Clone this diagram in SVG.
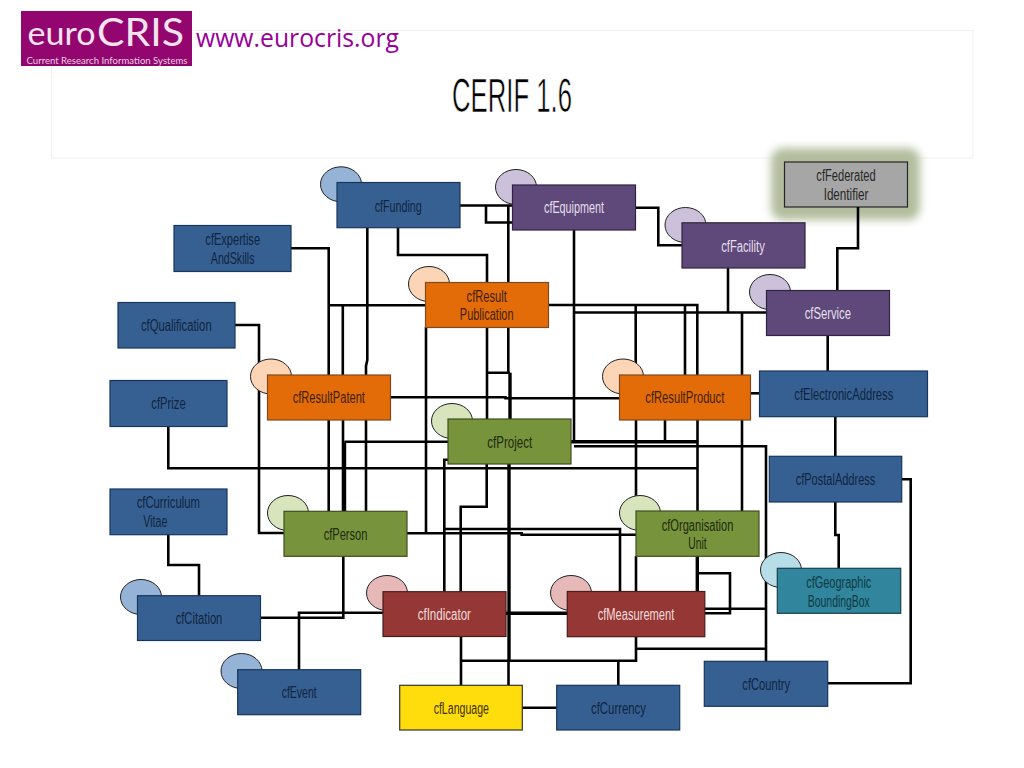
<svg xmlns="http://www.w3.org/2000/svg" width="1024" height="768" viewBox="0 0 1024 768">
<style>
text{font-family:"Liberation Sans",Arial,sans-serif}
.n text{font-size:16px;text-anchor:middle}
.n rect{stroke-width:1.2}
.n ellipse{stroke:#222;stroke-width:1}
.b rect{fill:#376092;stroke:#17365d}.b text{fill:#0f243e}.b ellipse{fill:#95b3d7}
.p rect{fill:#5f497a;stroke:#2f2440}.p text{fill:#e5dfec}.p ellipse{fill:#ccc1da}
.g rect{fill:#77933c;stroke:#3f4f20}.g text{fill:#1d2b0e}.g ellipse{fill:#d7e4bc}
.o rect{fill:#e36c09;stroke:#7f4a1c}.o text{fill:#3f1f04}.o ellipse{fill:#fbd5b5}
.r rect{fill:#953735;stroke:#4a1b1a}.r text{fill:#f2dcdb}.r ellipse{fill:#e6b9b8}
.t rect{fill:#31859c;stroke:#17404c}.t text{fill:#0f3a44}.t ellipse{fill:#b7dde8}
.y rect{fill:#ffdd0d;stroke:#333}.y text{fill:#3f3000}
.a rect{fill:#a6a6a6;stroke:#262626}.a text{fill:#262626}
#connectors path{fill:none;stroke:#000;stroke-width:2.6}
#connectors path.h{stroke-width:3.4}
</style>
<defs><filter id="glow" x="-20%" y="-20%" width="140%" height="140%"><feGaussianBlur stdDeviation="4"/></filter></defs>

<rect id="title-box" x="51.5" y="30.5" width="921.5" height="127.5" fill="#fff" stroke="#f0f0f0" stroke-width="1"/>
<text x="512" y="112" font-size="49" text-anchor="middle" textLength="120" lengthAdjust="spacingAndGlyphs" fill="#000" stroke="#fff" stroke-width="0.7" paint-order="fill">CERIF 1.6</text>
<g id="logo">
<rect x="21" y="11" width="171" height="55" fill="#93066f"/>
<text x="27.5" y="45" font-size="33" fill="#f3e3ee" textLength="68" lengthAdjust="spacingAndGlyphs" style="font-family:Lato,sans-serif">euro</text>
<text x="97" y="46" font-size="39" fill="#f3e3ee" textLength="87" lengthAdjust="spacingAndGlyphs" style="font-family:Lato,sans-serif">CRIS</text>
<text x="26.5" y="64" font-size="10" fill="#e8cfe0" textLength="161" lengthAdjust="spacingAndGlyphs" style="font-family:Lato,sans-serif">Current Research Information Systems</text>
</g>
<text x="196" y="47" font-size="25" fill="#990099" textLength="203" lengthAdjust="spacingAndGlyphs" style="font-family:'Open Sans',sans-serif">www.eurocris.org</text>

<g id="cfFederatedIdentifier" class="n a">
<rect x="771" y="148" width="149" height="72" rx="12" filter="url(#glow)" style="fill:#b3bd9e;stroke:none"/>
<rect x="784.5" y="162" width="123" height="45"/>
<text x="846" y="181" textLength="59.3" lengthAdjust="spacingAndGlyphs">cfFederated</text>
<text x="846" y="200" textLength="44.7" lengthAdjust="spacingAndGlyphs">Identifier</text>
</g>

<g id="connectors">
<path d="M460 205.5H512"/>
<path d="M486 205.5V222.5H512"/>
<path d="M508.3 205.5V282M508.3 327V372.7"/>
<path d="M398 228V255H487V282"/>
<path d="M487 327V419M487 372.7H510"/>
<path d="M510 372.7V419" class="h"/>
<path d="M367.3 228V360L366 366V375M366 420V511"/>
<path d="M291 248.3H328.7V375M328.7 420V511"/>
<path d="M235 325H259V533H284"/>
<path d="M328.7 305.3H425.3"/>
<path d="M342.8 305.3V375M343 420V511"/>
<path d="M344.5 441.7V511" class="h"/>
<path d="M344.5 441.7H448"/>
<path d="M548 305H697.3V375"/>
<path d="M685 305V375M635.7 305V375M636 420V511M636 556V591.5"/>
<path d="M574 230V441.7"/>
<path d="M571 441.7H697.5" class="h"/>
<path d="M574 312.5H766.5"/>
<path d="M574 446.3H766V661.5"/>
<path d="M742 312.5V375M742 420V511"/>
<path d="M665 420V441.7"/>
<path d="M697.5 420V511"/>
<path d="M697.3 556V591.5" class="h"/>
<path d="M697.3 573.3H730V613.3H705"/>
<path d="M705 608.7H766"/>
<path d="M168.3 426V468.3H697.5"/>
<path d="M445 529H620V591.5"/>
<path d="M407 533.3H521.7V534.7H636"/>
<path d="M426 327V533.3"/>
<path d="M448 459.7H444.3V591.7"/>
<path d="M486.7 464V506.7H460.7V591.7"/>
<path d="M461 636V685.5"/>
<path d="M509 464V660" class="h"/>
<path d="M508.5 660V685.5"/>
<path d="M506 613.3H567.3" class="h"/>
<path d="M383 612.7H299V670"/>
<path d="M260 617.7H343.3V556"/>
<path d="M168.3 535V565H199V596"/>
<path d="M636 637V660.7H461"/>
<path d="M636 648.7H766"/>
<path d="M618.3 660.7V685.5"/>
<path d="M522 707.7H557"/>
<path d="M390 397.3H505.5V398.3H619.5"/>
<path d="M750 393.3H759.5"/>
<path d="M636 207.7H658.3V245.3H682"/>
<path d="M728 268V312.5"/>
<path d="M858 207V248.3H837.3V290.5"/>
<path d="M827.7 335V371"/>
<path d="M835.3 416.5V456.5"/>
<path d="M835.3 502V535H838.7V568.5"/>
<path d="M902 479.3H910.7V683.3H828"/>
</g>

<g id="cfFacility" class="n p"><ellipse cx="685.5" cy="225" rx="20.5" ry="17.5"/><rect x="682" y="222.8" width="123" height="45.2"/><text x="743" y="251.7" textLength="43.7" lengthAdjust="spacingAndGlyphs">cfFacility</text></g>
<g id="cfService" class="n p"><ellipse cx="770" cy="292" rx="20.5" ry="17.5"/><rect x="766.5" y="290.5" width="123" height="45"/><text x="827.8" y="318.7" textLength="46.3" lengthAdjust="spacingAndGlyphs">cfService</text></g>
<g id="cfElectronicAddress" class="n b"><rect x="759.5" y="371" width="168" height="45.7"/><text x="843.8" y="400" textLength="99" lengthAdjust="spacingAndGlyphs">cfElectronicAddress</text></g>
<g id="cfResultProduct" class="n o"><ellipse cx="623" cy="376.5" rx="20.5" ry="17.5"/><rect x="619.5" y="375" width="131" height="45"/><text x="684.8" y="403.3" textLength="79" lengthAdjust="spacingAndGlyphs">cfResultProduct</text></g>
<g id="cfEquipment" class="n p"><ellipse cx="516" cy="187" rx="20.5" ry="17.5"/><rect x="512.5" y="185" width="123" height="45"/><text x="574" y="213.3" textLength="60" lengthAdjust="spacingAndGlyphs">cfEquipment</text></g>
<g id="cfFunding" class="n b"><ellipse cx="341" cy="184.3" rx="20.5" ry="17.5"/><rect x="337" y="182.5" width="123" height="45.2"/><text x="398.2" y="211.7" textLength="47" lengthAdjust="spacingAndGlyphs">cfFunding</text></g>
<g id="cfResultPublication" class="n o"><ellipse cx="429" cy="284" rx="20.5" ry="17.5"/><rect x="425.5" y="282.5" width="123" height="45"/><text x="486.7" y="301.7" textLength="40.3" lengthAdjust="spacingAndGlyphs">cfResult</text><text x="486.7" y="320.3" textLength="53.7" lengthAdjust="spacingAndGlyphs">Publication</text></g>
<g id="cfResultPatent" class="n o"><ellipse cx="271" cy="376.5" rx="20.5" ry="17.5"/><rect x="267.5" y="375" width="123" height="45"/><text x="328.8" y="403.3" textLength="72.3" lengthAdjust="spacingAndGlyphs">cfResultPatent</text></g>
<g id="cfExpertiseAndSkills" class="n b"><rect x="174" y="225.5" width="117" height="46"/><text x="232.7" y="245" textLength="54.7" lengthAdjust="spacingAndGlyphs">cfExpertise</text><text x="232.7" y="263.7" textLength="43.7" lengthAdjust="spacingAndGlyphs">AndSkills</text></g>
<g id="cfQualification" class="n b"><rect x="118" y="302.5" width="117" height="45.5"/><text x="176.3" y="331" textLength="70.7" lengthAdjust="spacingAndGlyphs">cfQualification</text></g>
<g id="cfPrize" class="n b"><rect x="110" y="380.5" width="117" height="46"/><text x="168.5" y="409.3" textLength="34.3" lengthAdjust="spacingAndGlyphs">cfPrize</text></g>
<g id="cfCurriculumVitae" class="n b"><rect x="110" y="489" width="117" height="45.7"/><text x="168.3" y="508.3" textLength="63.3" lengthAdjust="spacingAndGlyphs">cfCurriculum</text><text x="155.3" y="527.3" textLength="24" lengthAdjust="spacingAndGlyphs">Vitae</text></g>
<g id="cfPerson" class="n g"><ellipse cx="288" cy="513" rx="20.5" ry="17.5"/><rect x="284" y="511.3" width="123" height="45"/><text x="345.5" y="540" textLength="43.7" lengthAdjust="spacingAndGlyphs">cfPerson</text></g>
<g id="cfCitation" class="n b"><ellipse cx="141" cy="597" rx="20.5" ry="17.5"/><rect x="137.5" y="595.7" width="123" height="44.8"/><text x="199" y="624" textLength="46.7" lengthAdjust="spacingAndGlyphs">cfCitation</text></g>
<g id="cfEvent" class="n b"><ellipse cx="241.5" cy="671" rx="20.5" ry="17.5"/><rect x="237.7" y="669.7" width="123" height="45"/><text x="299.2" y="698.3" textLength="35" lengthAdjust="spacingAndGlyphs">cfEvent</text></g>
<g id="cfIndicator" class="n r"><ellipse cx="387" cy="593" rx="20.5" ry="17.5"/><rect x="383" y="591.7" width="123" height="44.8"/><text x="444.3" y="620.3" textLength="53.3" lengthAdjust="spacingAndGlyphs">cfIndicator</text></g>
<g id="cfLanguage" class="n y"><rect x="399.7" y="685.3" width="122.6" height="44.7"/><text x="461.3" y="714" textLength="55.3" lengthAdjust="spacingAndGlyphs">cfLanguage</text></g>
<g id="cfMeasurement" class="n r"><ellipse cx="571" cy="593" rx="20.5" ry="17.5"/><rect x="567.3" y="591.5" width="137.5" height="45.2"/><text x="636" y="620" textLength="76.7" lengthAdjust="spacingAndGlyphs">cfMeasurement</text></g>
<g id="cfCurrency" class="n b"><rect x="556.7" y="685.3" width="123" height="44.7"/><text x="618.5" y="714" textLength="55" lengthAdjust="spacingAndGlyphs">cfCurrency</text></g>
<g id="cfCountry" class="n b"><rect x="704.3" y="661.3" width="123.4" height="45"/><text x="766.2" y="690" textLength="47.7" lengthAdjust="spacingAndGlyphs">cfCountry</text></g>
<g id="cfOrganisationUnit" class="n g"><ellipse cx="640" cy="513" rx="20.5" ry="17.5"/><rect x="636" y="511" width="123" height="45.3"/><text x="697.5" y="530.7" textLength="71.7" lengthAdjust="spacingAndGlyphs">cfOrganisation</text><text x="697.5" y="549" textLength="18.3" lengthAdjust="spacingAndGlyphs">Unit</text></g>
<g id="cfGeographicBoundingBox" class="n t"><ellipse cx="781" cy="570" rx="20.5" ry="17.5"/><rect x="777.3" y="568.3" width="123.4" height="45"/><text x="838.8" y="587.7" textLength="65" lengthAdjust="spacingAndGlyphs">cfGeographic</text><text x="838.8" y="606.7" textLength="62" lengthAdjust="spacingAndGlyphs">BoundingBox</text></g>
<g id="cfPostalAddress" class="n b"><rect x="769.3" y="456.3" width="132.4" height="45.7"/><text x="835.5" y="485" textLength="79.7" lengthAdjust="spacingAndGlyphs">cfPostalAddress</text></g>
<g id="cfProject" class="n g"><ellipse cx="452" cy="421" rx="20.5" ry="17.5"/><rect x="448" y="419" width="123" height="45"/><text x="509.8" y="447.7" textLength="45" lengthAdjust="spacingAndGlyphs">cfProject</text></g>
</svg>
